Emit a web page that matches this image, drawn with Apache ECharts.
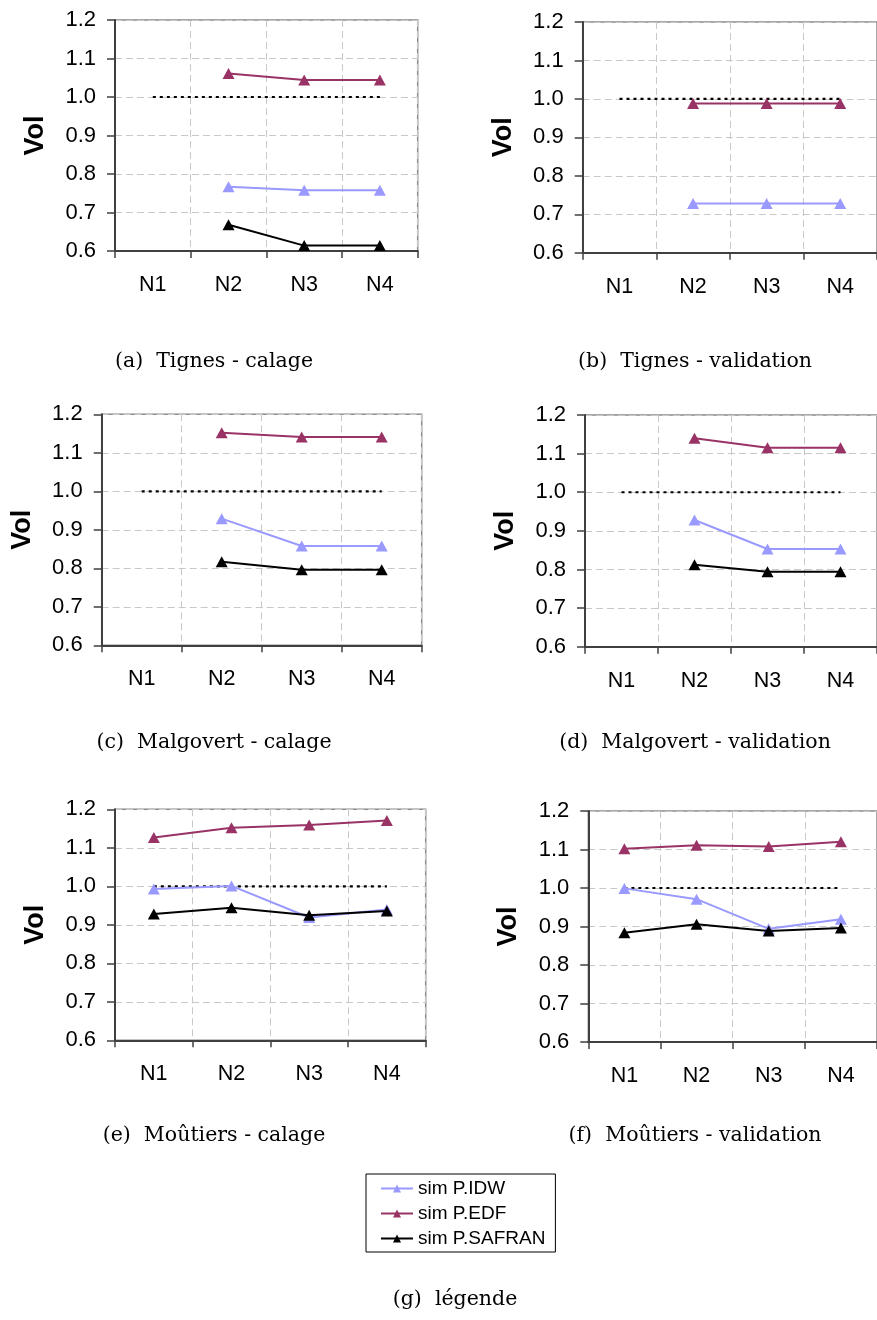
<!DOCTYPE html>
<html>
<head>
<meta charset="utf-8">
<script src="https://cdn.jsdelivr.net/npm/echarts@6/dist/echarts.min.js"></script>
<style>
html,body{margin:0;padding:0;background:#fff;}
#chart{width:877px;height:1320px;}
</style>
</head>
<body>
<div id="chart"></div>
<script>
// ---- data ----
const categories = ['N1', 'N2', 'N3', 'N4'];
const seriesNames = ['sim P.IDW', 'sim P.EDF', 'sim P.SAFRAN'];
const reference = [1.0, 1.0, 1.0, 1.0];

const tignesCalageIDW    = [null, 0.767, 0.758, 0.758];
const tignesCalageEDF    = [null, 1.061, 1.044, 1.044];
const tignesCalageSAFRAN = [null, 0.668, 0.614, 0.614];

const tignesValidIDW    = [null, 0.728, 0.728, 0.728];
const tignesValidEDF    = [null, 0.988, 0.988, 0.988];
const tignesValidSAFRAN = [null, null, null, null];

const malgovertCalageIDW    = [null, 0.929, 0.858, 0.858];
const malgovertCalageEDF    = [null, 1.152, 1.141, 1.141];
const malgovertCalageSAFRAN = [null, 0.817, 0.796, 0.796];

const malgovertValidIDW    = [null, 0.928, 0.853, 0.853];
const malgovertValidEDF    = [null, 1.140, 1.115, 1.115];
const malgovertValidSAFRAN = [null, 0.812, 0.794, 0.794];

const moutiersCalageIDW    = [0.993, 1.001, 0.919, 0.940];
const moutiersCalageEDF    = [1.127, 1.152, 1.159, 1.171];
const moutiersCalageSAFRAN = [0.928, 0.944, 0.925, 0.936];

const moutiersValidIDW    = [0.999, 0.971, 0.894, 0.919];
const moutiersValidEDF    = [1.102, 1.111, 1.108, 1.120];
const moutiersValidSAFRAN = [0.884, 0.906, 0.888, 0.896];

const captions = [
  '(a)  Tignes - calage', '(b)  Tignes - validation',
  '(c)  Malgovert - calage', '(d)  Malgovert - validation',
  '(e)  Moûtiers - calage', '(f)  Moûtiers - validation'
];
const legendCaption = '(g)  légende';

// ---- layout ----
const panels = [
  {grid: {left: 115,   top: 20,    width: 302.7, height: 231},   cap: [214, 362],  d: [tignesCalageIDW, tignesCalageEDF, tignesCalageSAFRAN]},
  {grid: {left: 582.7, top: 22,    width: 303.2, height: 230.7}, cap: [695, 362],  d: [tignesValidIDW, tignesValidEDF, tignesValidSAFRAN]},
  {grid: {left: 101.7, top: 414.3, width: 320,   height: 231},   cap: [214, 743],  d: [malgovertCalageIDW, malgovertCalageEDF, malgovertCalageSAFRAN]},
  {grid: {left: 585,   top: 415,   width: 295.6, height: 231.7}, cap: [695, 743],  d: [malgovertValidIDW, malgovertValidEDF, malgovertValidSAFRAN]},
  {grid: {left: 115,   top: 809.3, width: 310.7, height: 231},   cap: [214, 1136], d: [moutiersCalageIDW, moutiersCalageEDF, moutiersCalageSAFRAN]},
  {grid: {left: 588.3, top: 811,   width: 292.4, height: 231},   cap: [695, 1136], d: [moutiersValidIDW, moutiersValidEDF, moutiersValidSAFRAN]}
];

const colors = ['#9999FF', '#993366', '#000000'];
const FONT = 'Liberation Sans, Arial, sans-serif';
const SERIF = 'DejaVu Serif, serif';

const grids = [], xAxes = [], yAxes = [], series = [], graphics = [];
panels.forEach((p, i) => {
  grids.push(Object.assign({show: true, borderColor: '#8a8a8a', borderWidth: 1.5, backgroundColor: 'transparent', containLabel: false}, p.grid));
  xAxes.push({
    type: 'category', gridIndex: i, data: categories, boundaryGap: true,
    axisLine: {show: true, lineStyle: {color: '#404040', width: 2}},
    axisTick: {show: true, inside: false, length: 7, alignWithLabel: false, lineStyle: {color: '#404040', width: 1.5}},
    axisLabel: {fontSize: 21.5, color: '#000', fontFamily: FONT, margin: 23},
    splitLine: {show: true, lineStyle: {color: '#c8c8c8', width: 1, type: [7, 4]}}
  });
  yAxes.push({
    type: 'value', gridIndex: i, min: 0.6, max: 1.2, interval: 0.1,
    name: 'Vol', nameLocation: 'middle', nameRotate: 90, nameGap: 66,
    nameTextStyle: {fontSize: 27, fontWeight: 'bold', fontFamily: FONT, color: '#000'},
    axisLine: {show: true, lineStyle: {color: '#404040', width: 2}},
    axisTick: {show: true, inside: false, length: 8, lineStyle: {color: '#404040', width: 1.5}},
    axisLabel: {fontSize: 22, color: '#000', fontFamily: FONT, margin: 19, formatter: v => v.toFixed(1)},
    splitLine: {show: true, lineStyle: {color: '#c8c8c8', width: 1, type: [7, 4]}}
  });
  series.push({
    type: 'line', xAxisIndex: i, yAxisIndex: i, data: reference, symbol: 'none', silent: true,
    lineStyle: {color: '#000', width: 2.2, type: [3, 4]}, z: 1
  });
  p.d.forEach((arr, k) => {
    series.push({
      name: seriesNames[k], type: 'line', xAxisIndex: i, yAxisIndex: i, data: arr,
      symbol: 'triangle', symbolSize: [12, 11], connectNulls: false,
      itemStyle: {color: colors[k]}, lineStyle: {color: colors[k], width: 2}, z: 2 + k
    });
  });
  graphics.push({
    type: 'text', x: p.cap[0], y: p.cap[1],
    style: {text: captions[i], font: '20.5px ' + SERIF, fill: '#000', align: 'center', verticalAlign: 'middle'}
  });
});
graphics.push({
  type: 'text', x: 455, y: 1300,
  style: {text: legendCaption, font: '20.5px ' + SERIF, fill: '#000', align: 'center', verticalAlign: 'middle'}
});

const chart = echarts.init(document.getElementById('chart'), null, {renderer: 'canvas'});
chart.setOption({
  animation: false,
  backgroundColor: '#fff',
  grid: grids, xAxis: xAxes, yAxis: yAxes, series: series,
  legend: {
    data: seriesNames, orient: 'vertical', left: 366, top: 1174,
    borderColor: '#000', borderWidth: 1, padding: [5, 10, 4, 14],
    itemWidth: 32, itemHeight: 10, itemGap: 6,
    textStyle: {fontSize: 19, fontFamily: FONT, color: '#000', lineHeight: 18},
    selectedMode: false
  },
  graphic: graphics
});
</script>
</body>
</html>
